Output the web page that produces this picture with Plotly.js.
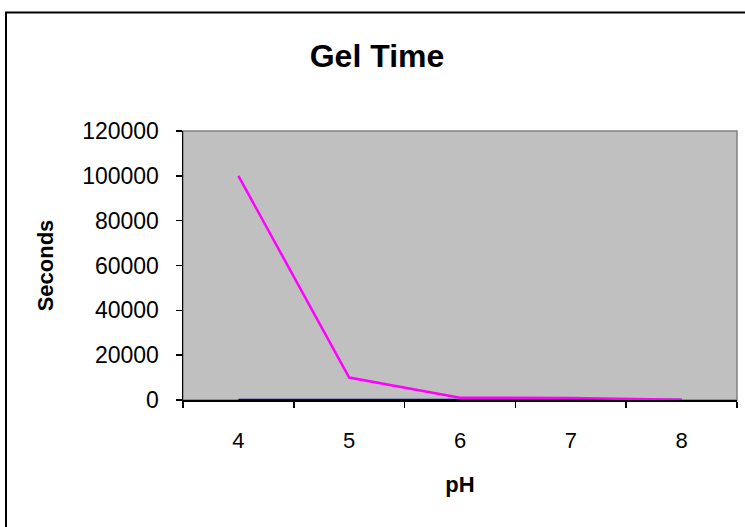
<!DOCTYPE html>
<html>
<head>
<meta charset="utf-8">
<script src="https://cdn.plot.ly/plotly-3.0.1.min.js"></script>
<style>html,body{margin:0;padding:0;background:#fff;}#chart{width:745px;height:527px;}</style>
</head>
<body>
<div id="chart"></div>
<script>
var categories = ["4", "5", "6", "7", "8"];
var seriesMagenta = [100000, 10000, 1000, 900, 100];
var seriesBlue = [20, 15, 10, 8, 5];
var yTicks = [0, 20000, 40000, 60000, 80000, 100000, 120000];

var traces = [
  {x: categories, y: seriesBlue, type: 'scatter', mode: 'lines', cliponaxis: false, line: {color: '#0000A0', width: 2.5}, showlegend: false, hoverinfo: 'none'},
  {x: categories, y: seriesMagenta, type: 'scatter', mode: 'lines', cliponaxis: false, line: {color: '#FF00FF', width: 2.5}, showlegend: false, hoverinfo: 'none'}
];

var font = 'Liberation Sans, Arial, sans-serif';
var layout = {
  width: 745, height: 527,
  margin: {l: 183, r: 8, t: 131, b: 127, pad: 0},
  paper_bgcolor: '#FFFFFF',
  plot_bgcolor: '#C0C0C0',
  font: {family: font, size: 22, color: '#000'},
  title: {text: 'Gel Time', font: {family: font, size: 32, weight: 'bold', color: '#000'}, x: 377 / 745, xanchor: 'center', xref: 'container', y: 1 - 56 / 527, yanchor: 'middle', yref: 'container'},
  xaxis: {
    type: 'category', range: [-0.5, 4.5], tickson: 'boundaries',
    ticks: 'outside', ticklen: 6, tickwidth: 1.5, tickcolor: '#000',
    showline: true, linecolor: '#000', linewidth: 1.5, layer: 'below traces',
    showgrid: false, zeroline: false, ticklabelstandoff: 20,
    tickfont: {family: font, size: 22, color: '#000'},
    title: {text: 'pH', font: {family: font, size: 22, weight: 'bold', color: '#000'}, standoff: 24}
  },
  yaxis: {
    range: [0, 120000], tickvals: yTicks, ticktext: yTicks.map(String),
    ticks: 'outside', ticklen: 6, tickwidth: 1.5, tickcolor: '#000',
    showline: true, linecolor: '#000', linewidth: 1.5, layer: 'below traces',
    showgrid: false, zeroline: false, ticklabelstandoff: 12,
    tickfont: {family: font, size: 23, color: '#000'},
    title: {text: 'Seconds', font: {family: font, size: 22, weight: 'bold', color: '#000'}, standoff: 22}
  },
  shapes: [
    {type: 'rect', xref: 'x domain', yref: 'y domain', x0: 0, x1: 1, y0: 0, y1: 1, line: {color: '#808080', width: 1.5}, layer: 'below'},
    {type: 'rect', xref: 'paper', yref: 'paper', x0: (6 - 183) / 554, x1: (752 - 183) / 554, y0: (400 - 532) / 269, y1: (400 - 12.5) / 269, line: {color: '#000', width: 2}, layer: 'above'}
  ]
};

Plotly.newPlot('chart', traces, layout, {staticPlot: true, displayModeBar: false});
</script>
</body>
</html>
